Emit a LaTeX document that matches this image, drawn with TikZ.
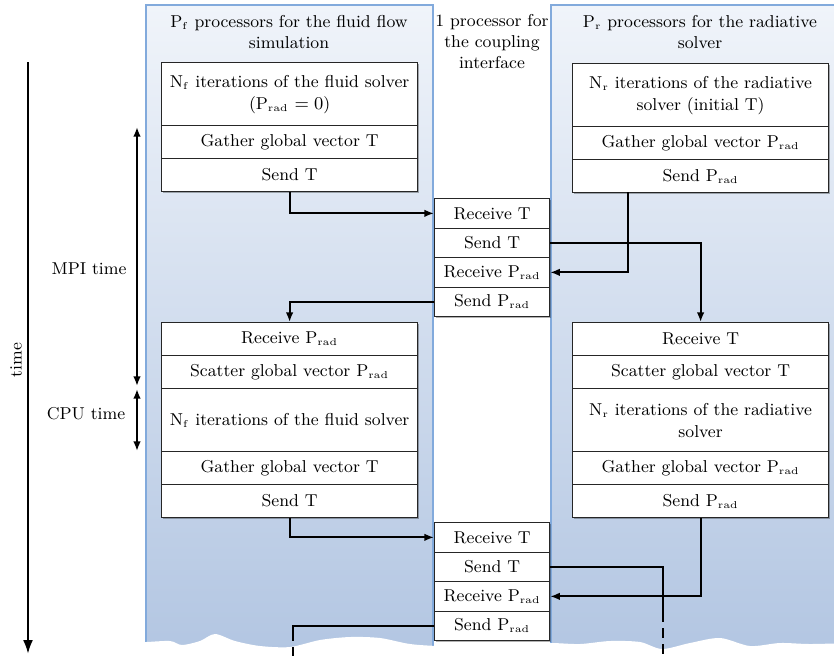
\documentclass[tikz,border=0pt]{standalone}
\usetikzlibrary{arrows.meta,shadows}
\definecolor{panelborder}{RGB}{130,170,220}
\definecolor{paneltop}{RGB}{240,244,250}
\definecolor{panelbot}{RGB}{176,196,225}
\newcommand{\lowsub}[1]{$_{\scriptscriptstyle\mathrm{#1}}$}
\begin{document}
\begin{tikzpicture}[x=0.5pt,y=-0.5pt,
  bx/.style={draw=black!85, line width=0.6pt, fill=white, inner sep=0pt, align=center, anchor=north west,
    font=\fontsize{8.6}{11}\selectfont,
    drop shadow={shadow xshift=0.9pt,shadow yshift=-0.9pt,opacity=0.3,fill=black}},
  sidebox/.style={bx, minimum width=128pt},
  midbox/.style={bx, minimum width=57.5pt, minimum height=14.75pt},
  tall/.style={minimum height=31.5pt},
  short/.style={minimum height=16.5pt},
  panel/.style={draw=panelborder, line width=0.6pt, top color=paneltop, bottom color=panelbot},
  conn/.style={line width=1pt, -{Latex[length=4.8pt,width=3.8pt]}},
  plainconn/.style={line width=1pt},
  dashconn/.style={line width=1pt, dash pattern=on 5pt off 3pt},
  title/.style={align=center, font=\fontsize{8.6}{10.5}\selectfont, inner sep=0pt},
  lbl/.style={font=\fontsize{8.6}{10}\selectfont, inner sep=0pt},
  dbl/.style={line width=1pt, {Latex[length=4.8pt,width=3.8pt]}-{Latex[length=4.8pt,width=3.8pt]}}
]
\useasboundingbox (0,0) rectangle (834,655);
\begin{scope}
\clip (0,0) rectangle (834,655);
\draw[panel] (146,5) rectangle (433,680);
\draw[panel] (551,5) rectangle (850,680);
\fill[white] (130,700) -- plot[smooth] coordinates {(130,642) (146,642) (170,641) (182,645) (200,641) (215,634) (235,641) (260,646) (290,647) (320,640) (350,637) (380,638) (410,644) (440,646) (470,645) (520,644) (551,643) (580,644) (610,641) (640,642) (662,649) (690,643) (720,638) (750,646) (780,643) (810,644) (850,643)} -- (850,700) -- cycle;
\end{scope}

% titles
\node[title] (tl) at (289,32) {P\lowsub{f} processors for the fluid flow\\simulation};
\node[title] (tm) at (492,42) {1 processor for\\the coupling\\interface};
\node[title] (tr) at (700,32) {P\lowsub{r} processors for the radiative\\solver};

% left group 1
\node[sidebox,tall] (f1) at (161,62) {N\lowsub{f} iterations of the fluid solver\\(P\lowsub{rad} $=0$)};
\node[sidebox,short] (f2) at (161,125) {Gather global vector T};
\node[sidebox,short] (f3) at (161,158) {Send T};
% right group 1
\node[sidebox,tall] (r1) at (572,63) {N\lowsub{r} iterations of the radiative\\solver (initial T)};
\node[sidebox,short] (r2) at (572,126) {Gather global vector P\lowsub{rad}};
\node[sidebox,short] (r3) at (572,159) {Send P\lowsub{rad}};
% middle group 1
\node[midbox] (c1) at (434,198) {Receive T};
\node[midbox] (c2) at (434,227.5) {Send T};
\node[midbox] (c3) at (434,257) {Receive P\lowsub{rad}};
\node[midbox] (c4) at (434,286.5) {Send P\lowsub{rad}};
% left group 2
\node[sidebox,short] (f4) at (161,322) {Receive P\lowsub{rad}};
\node[sidebox,short] (f5) at (161,355) {Scatter global vector P\lowsub{rad}};
\node[sidebox,tall] (f6) at (161,388) {N\lowsub{f} iterations of the fluid solver};
\node[sidebox,short] (f7) at (161,451) {Gather global vector T};
\node[sidebox,short] (f8) at (161,484) {Send T};
% right group 2
\node[sidebox,short] (r4) at (572,322) {Receive T};
\node[sidebox,short] (r5) at (572,355) {Scatter global vector T};
\node[sidebox,tall] (r6) at (572,388) {N\lowsub{r} iterations of the radiative\\solver};
\node[sidebox,short] (r7) at (572,451) {Gather global vector P\lowsub{rad}};
\node[sidebox,short] (r8) at (572,484) {Send P\lowsub{rad}};
% middle group 2
\node[midbox] (c5) at (434,522) {Receive T};
\node[midbox] (c6) at (434,551.5) {Send T};
\node[midbox] (c7) at (434,581) {Receive P\lowsub{rad}};
\node[midbox] (c8) at (434,610.5) {Send P\lowsub{rad}};

% connectors
\coordinate (p1) at (628,192);
\draw[conn] (f3.south) |- (c1.west);
\draw[conn] (p1) |- (c3.east);
\draw[conn] (c2.east) -| (r4.north);
\draw[conn] (c4.west) -| (f4.north);
\draw[conn] (f8.south) |- (c5.west);
\draw[conn] (r8.south) |- (c7.east);
\coordinate (d1) at (663,612);
\coordinate (d1e) at (663,656);
\coordinate (d2) at (293,631);
\coordinate (d2e) at (293,656);
\draw[plainconn] (c6.east) -| (d1);
\draw[dashconn] (d1) -- (d1e);
\draw[plainconn] (c8.west) -| (d2);
\draw[dashconn] (d2) -- (d2e);

% time axis
\coordinate (t0) at (28,62);
\coordinate (t1) at (28,654);
\draw[line width=1.2pt, -{Latex[length=7pt,width=5pt]}] (t0) -- (t1);
\node[lbl, rotate=90] (tt) at (16,360) {time};
\coordinate (m0) at (137,127);
\coordinate (m1) at (137,386);
\coordinate (m2) at (137,389);
\coordinate (m3) at (137,451);
\draw[dbl] (m0) -- (m1);
\draw[dbl] (m2) -- (m3);
\node[lbl] (mpi) at (89,269) {MPI time};
\node[lbl] (cpu) at (86,414) {CPU time};
\end{tikzpicture}
\end{document}
